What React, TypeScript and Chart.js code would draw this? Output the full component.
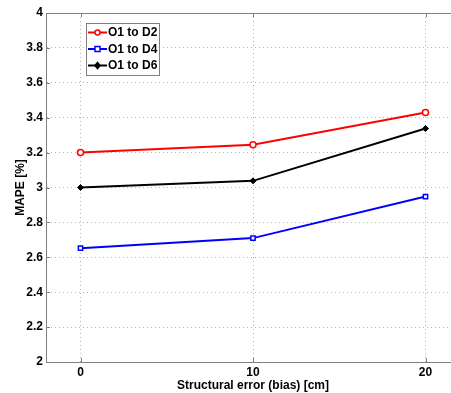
import React, { useEffect, useRef } from "react";
import { Chart, registerables } from "chart.js";

Chart.register(...registerables);

const xValues = [0, 10, 20];
const xTicks = [0, 10, 20];
const seriesNames = ["O1 to D2", "O1 to D4", "O1 to D6"];
const d2Values = [3.2, 3.245, 3.43];
const d4Values = [2.652, 2.71, 2.948];
const d6Values = [3.0, 3.038, 3.338];
const seriesColors = ["#ff0000", "#0000ff", "#000000"];
const seriesMarkers = ["circle", "rect", "rectRot"];

const FONT = "'Liberation Sans', Arial, sans-serif";
const AXIS = "#808080";
const GRID = "#b4b4b4";

const frame = {
  id: "frame",
  afterDraw(chart: any) {
    const { ctx, chartArea } = chart;
    const { left, right, top, bottom } = chartArea;
    ctx.save();
    ctx.strokeStyle = AXIS;
    ctx.lineWidth = 1;
    ctx.beginPath();
    ctx.moveTo(left, top + 0.5);
    ctx.lineTo(right, top + 0.5);
    ctx.stroke();
    // inward ticks
    const ys = chart.scales.y;
    ys.ticks.forEach((t: any) => {
      const py = Math.round(ys.getPixelForValue(t.value)) + 0.5;
      ctx.beginPath();
      ctx.moveTo(left, py);
      ctx.lineTo(left + 4, py);
      ctx.stroke();
    });
    const xs = chart.scales.x;
    xs.ticks.forEach((t: any) => {
      const px = Math.round(xs.getPixelForValue(t.value)) + 0.5;
      ctx.beginPath();
      ctx.moveTo(px, bottom);
      ctx.lineTo(px, bottom - 4);
      ctx.moveTo(px, top);
      ctx.lineTo(px, top + 4);
      ctx.stroke();
    });
    // legend
    const bx = 86.5, by = 23.5, bw = 73, bh = 52;
    ctx.fillStyle = "#ffffff";
    ctx.fillRect(bx, by, bw, bh);
    ctx.strokeStyle = AXIS;
    ctx.strokeRect(bx, by, bw, bh);
    ctx.font = `bold 12px ${FONT}`;
    ctx.textBaseline = "middle";
    ctx.textAlign = "left";
    chart.data.datasets.forEach((ds: any, i: number) => {
      const cy = 32.5 + i * 16.5;
      ctx.strokeStyle = ds.borderColor;
      ctx.lineWidth = 2;
      ctx.beginPath();
      ctx.moveTo(88, cy);
      ctx.lineTo(107, cy);
      ctx.stroke();
      ctx.lineWidth = 1.5;
      ctx.fillStyle = ds.pointBackgroundColor;
      ctx.strokeStyle = ds.borderColor;
      const mx = 97.5;
      ctx.beginPath();
      if (ds.pointStyle === "circle") {
        ctx.arc(mx, cy, 2.5, 0, Math.PI * 2);
      } else if (ds.pointStyle === "rect") {
        ctx.rect(mx - 2.5, cy - 2.5, 5, 5);
      } else {
        ctx.moveTo(mx, cy - 3);
        ctx.lineTo(mx + 2.5, cy);
        ctx.lineTo(mx, cy + 3);
        ctx.lineTo(mx - 2.5, cy);
        ctx.closePath();
      }
      ctx.fill();
      ctx.stroke();
      ctx.fillStyle = "#000000";
      ctx.fillText(ds.label, 108, cy + 0.5);
    });
    ctx.restore();
  },
};

export default function App() {
  const ref = useRef<HTMLCanvasElement | null>(null);
  useEffect(() => {
    if (!ref.current) return;
    const allValues = [d2Values, d4Values, d6Values];
    const chart = new Chart(ref.current, {
      type: "line",
      data: {
        datasets: allValues.map((vals, i) => ({
          label: seriesNames[i],
          data: xValues.map((x, j) => ({ x, y: vals[j] })),
          borderColor: seriesColors[i],
          backgroundColor: seriesColors[i],
          pointBackgroundColor: i === 2 ? "#000000" : "#ffffff",
          pointBorderColor: seriesColors[i],
          pointStyle: seriesMarkers[i],
          pointRadius: 3,
          pointBorderWidth: i === 2 ? 1 : 1.5,
          borderWidth: 2,
          tension: 0,
        })),
      },
      options: {
        animation: false,
        responsive: false,
        maintainAspectRatio: false,
        layout: { padding: { top: 13, right: 6, left: 0, bottom: 0 } },
        plugins: { legend: { display: false }, tooltip: { enabled: false } },
        scales: {
          x: {
            type: "linear",
            min: -2,
            max: 22,
            afterBuildTicks: (s: any) => {
              s.ticks = xTicks.map((v) => ({ value: v }));
            },
            afterFit: (s: any) => {
              s.height = 31;
            },
            grid: { color: GRID, drawTicks: false },
            border: { color: AXIS, dash: [1, 3] } as any,
            ticks: {
              color: "#000000",
              font: { family: FONT, size: 12, weight: "bold" },
              padding: 3,
              maxRotation: 0,
            },
            title: {
              display: true,
              text: "Structural error (bias) [cm]",
              color: "#000000",
              font: { family: FONT, size: 12, weight: "bold" },
              padding: { top: 0, bottom: 0 },
            },
          },
          y: {
            min: 2,
            max: 4,
            ticks: {
              stepSize: 0.2,
              color: "#000000",
              font: { family: FONT, size: 12, weight: "bold" },
              padding: 3,
              callback: (v: any) => String(Math.round(Number(v) * 10) / 10),
            },
            afterFit: (s: any) => {
              s.width = 46;
            },
            grid: { color: GRID, drawTicks: false },
            border: { color: AXIS, dash: [1, 3] } as any,
            title: {
              display: true,
              text: "MAPE [%]",
              color: "#000000",
              font: { family: FONT, size: 12, weight: "bold" },
              padding: { top: 13, bottom: 0 },
            },
          },
        },
      },
      plugins: [frame],
    });
    return () => chart.destroy();
  }, []);
  return (
    <div
      style={{
        position: "fixed",
        left: 0,
        top: 0,
        width: 451,
        height: 393,
        overflow: "hidden",
        background: "#fff",
      }}
    >
      <canvas ref={ref} width={466} height={393} style={{ width: 466, height: 393 }} />
    </div>
  );
}
